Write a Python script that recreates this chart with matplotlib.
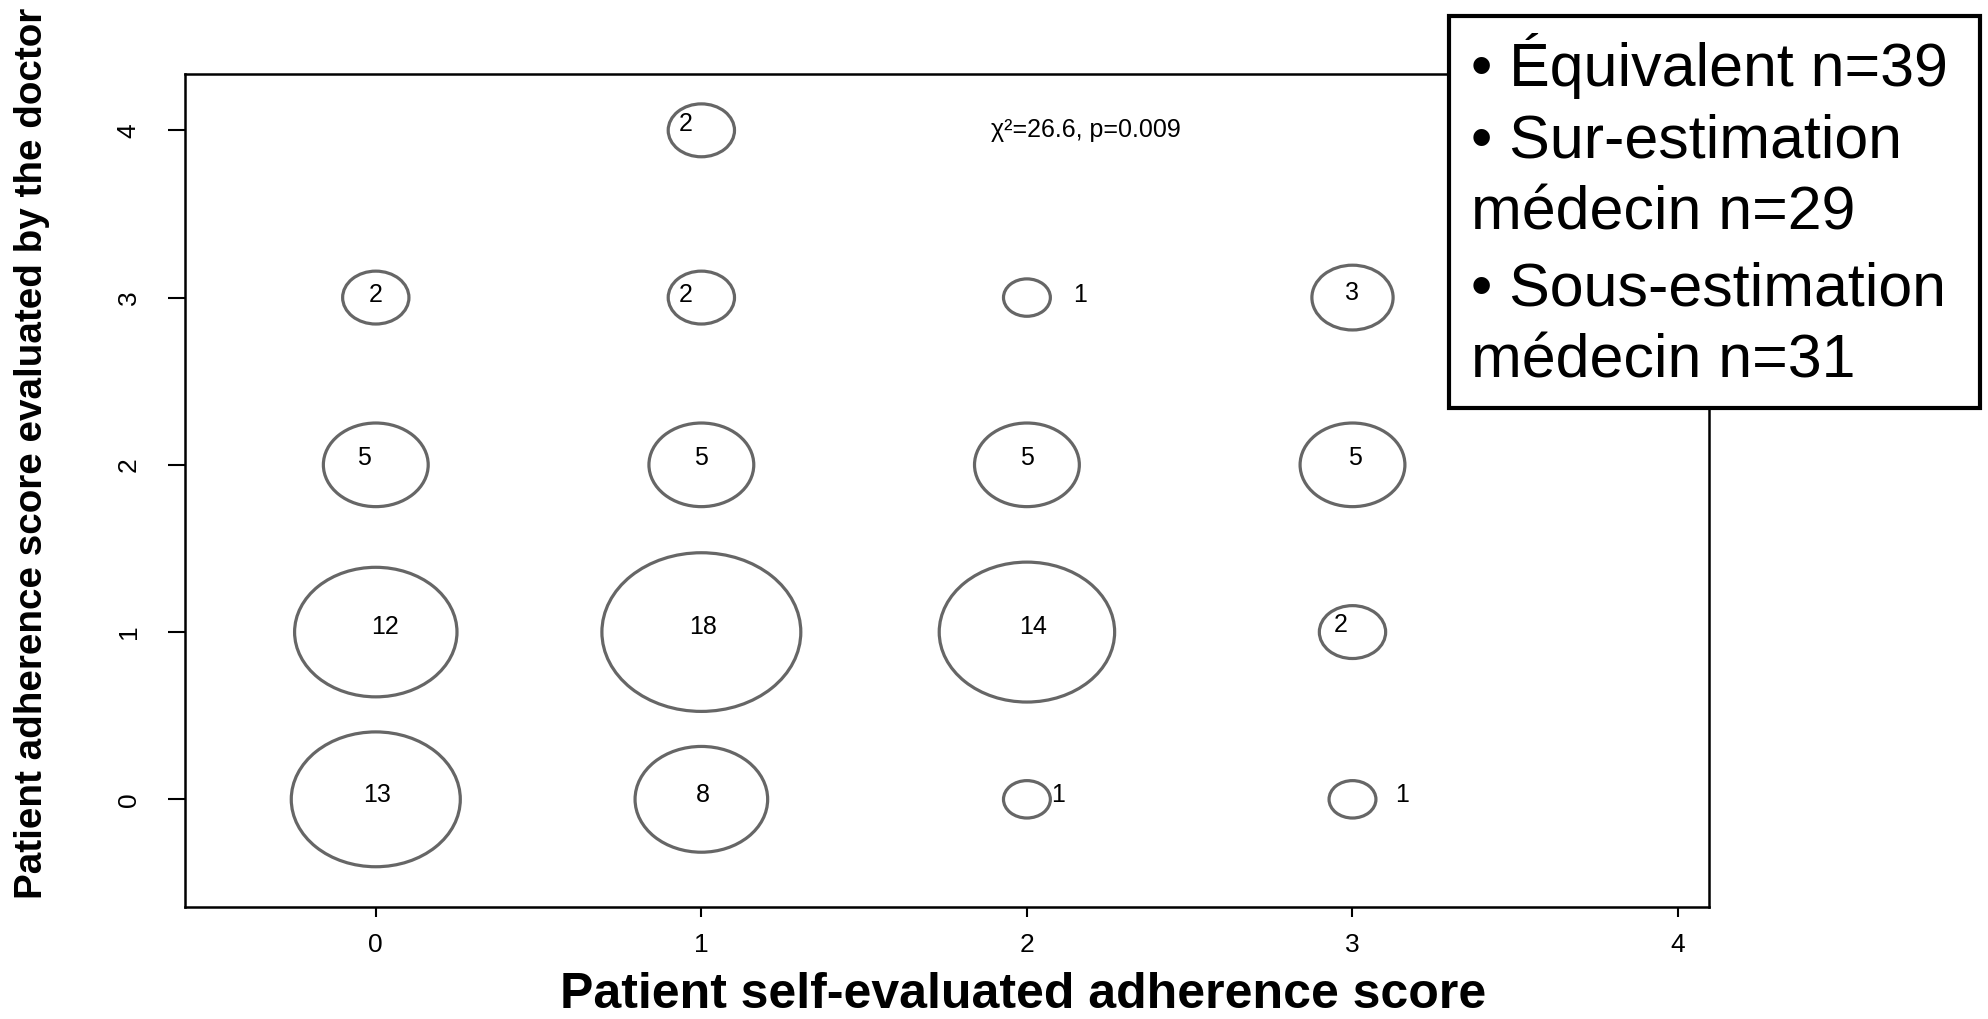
import numpy as np
import matplotlib
matplotlib.use("Agg")
import matplotlib.pyplot as plt
from matplotlib.patches import Ellipse, Rectangle

plt.rcParams['font.family'] = ['Liberation Sans', 'DejaVu Sans']

# ---- data ----
self_score   = [0, 0, 0, 0, 1, 1, 1, 1, 1, 2, 2, 2, 2, 3, 3, 3, 3]
doctor_score = [0, 1, 2, 3, 0, 1, 2, 3, 4, 0, 1, 2, 3, 0, 1, 2, 3]
counts       = [13, 12, 5, 2, 8, 18, 5, 2, 2, 1, 14, 5, 1, 1, 2, 5, 3]
# label offsets (placement only, data units)
label_dx = [0.004, 0.027, -0.035, 0.0, 0.004, 0.004, 0.0, -0.047, -0.047,
            0.097, 0.02, 0.0, 0.163, 0.152, -0.035, 0.008, 0.0]
label_dy = [0.023, 0.03, 0.038, 0.015, 0.023, 0.03, 0.038, 0.015, 0.038,
            0.023, 0.03, 0.038, 0.015, 0.023, 0.04, 0.038, 0.03]
x_ticks = [0, 1, 2, 3, 4]
y_ticks = [0, 1, 2, 3, 4]
stat_text = "\u03c7\u00b2=26.6, p=0.009"
legend_lines = ["\u2022 \u00c9quivalent n=39", "\u2022 Sur-estimation",
                "m\u00e9decin n=29", "\u2022 Sous-estimation", "m\u00e9decin n=31"]
xlabel = "Patient self-evaluated adherence score"
ylabel = "Patient adherence score evaluated by the doctor"

W, H = 1988, 1019
fig = plt.figure(figsize=(W / 100, H / 100), dpi=100)
ax = fig.add_axes([185 / W, 1 - 906.7 / H, (1709 - 185) / W, (906.7 - 74.3) / H])
ax.set_xlim(-0.586, 4.095)
ax.set_ylim(-0.642, 4.335)

wscale, hscale = 0.144, 0.2236
for x, y, n, dx, dy in zip(self_score, doctor_score, counts, label_dx, label_dy):
    e = Ellipse((x, y), wscale * np.sqrt(n), hscale * np.sqrt(n),
                facecolor='none', edgecolor='#666666', linewidth=2.3)
    ax.add_patch(e)
    ax.text(x + dx, y + dy, str(n), ha='center', va='center', fontsize=18, color='black')

ax.text(2.18, 4.0, stat_text, ha='center', va='center', fontsize=18)

ax.set_xticks(x_ticks)
ax.set_yticks(y_ticks)
ax.tick_params(axis='x', length=7, width=1.5, labelsize=19, pad=12, direction='out')
ax.tick_params(axis='y', length=12, width=1.5, labelsize=19, pad=20, direction='out')
for lab in ax.get_yticklabels():
    lab.set_rotation(90)
    lab.set_va('center')
for s in ax.spines.values():
    s.set_linewidth(1.8)

fig.text(1023 / W, 1 - 1008 / H, xlabel, ha='center', va='baseline', fontsize=36, fontweight='bold')
fig.text(32 / W, 1 - 453 / H, ylabel, ha='center', va='center', fontsize=27.8,
         fontweight='bold', rotation=90)

# legend-like annotation box
box = Rectangle((1449 / W, 1 - 408 / H), (1980 - 1449) / W, (408 - 16) / H,
                transform=fig.transFigure, facecolor='white', edgecolor='black',
                linewidth=3, zorder=10)
fig.patches.append(box)
baselines = [86, 157, 230, 305, 378]
for txt, b in zip(legend_lines, baselines):
    fig.text(1471 / W, 1 - b / H, txt, ha='left', va='baseline', fontsize=43.8, zorder=11)

fig.savefig("out.png", dpi=100, facecolor='white')
